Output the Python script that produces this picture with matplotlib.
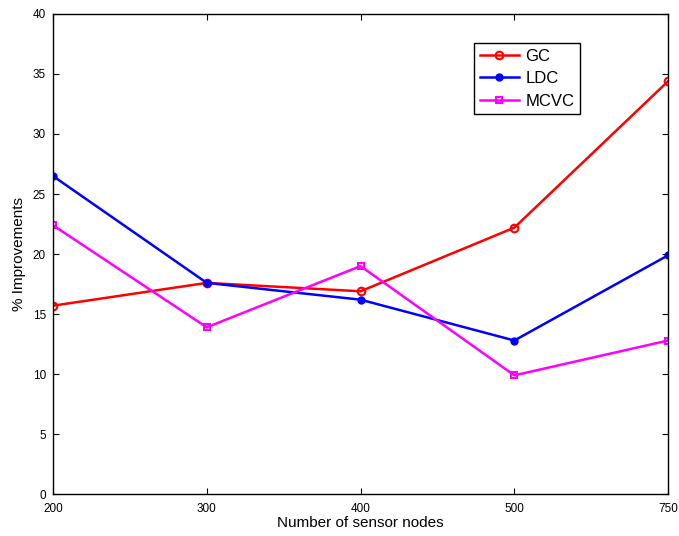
import matplotlib
matplotlib.use("Agg")
import matplotlib.pyplot as plt

nodes = ["200", "300", "400", "500", "750"]
gc = [15.7, 17.6, 16.9, 22.2, 34.4]
ldc = [26.5, 17.6, 16.2, 12.8, 19.9]
mcvc = [22.4, 13.9, 19.0, 9.9, 12.8]

plt.rcParams["font.family"] = ["Liberation Sans", "DejaVu Sans"]

fig = plt.figure(figsize=(6.79, 5.36), dpi=100)
ax = fig.add_axes([0.078, 0.078, 0.906, 0.896])

x = list(range(len(nodes)))
ax.plot(x, gc, color="red", lw=1.8, marker="o", ms=5.5, mfc="none", mew=1.5, label="GC")
ax.plot(x, ldc, color="blue", lw=1.8, marker="o", ms=5, mfc="blue", label="LDC")
ax.plot(x, mcvc, color="magenta", lw=1.8, marker="s", ms=5, mfc="none", mew=1.5, label="MCVC")

ax.set_xlim(0, len(nodes) - 1)
ax.set_ylim(0, 40)
ax.set_xticks(x)
ax.set_xticklabels(nodes)
ax.set_yticks(range(0, 41, 5))
ax.tick_params(direction="in", top=True, right=True, labelsize=8.5, length=4)
ax.tick_params(axis="x", pad=6)
ax.tick_params(axis="y", pad=5)
for s in ax.spines.values():
    s.set_linewidth(1.0)

ax.set_xlabel("Number of sensor nodes", fontsize=11, labelpad=1)
ax.set_ylabel("% Improvements", fontsize=11, labelpad=5)

leg = ax.legend(loc="upper left", bbox_to_anchor=(0.685, 0.94), fontsize=12,
                fancybox=False, edgecolor="black", framealpha=1, borderaxespad=0,
                handlelength=2.3, handletextpad=0.4, borderpad=0.35, labelspacing=0.45)
leg.get_frame().set_linewidth(1.0)

fig.savefig("out.png")
